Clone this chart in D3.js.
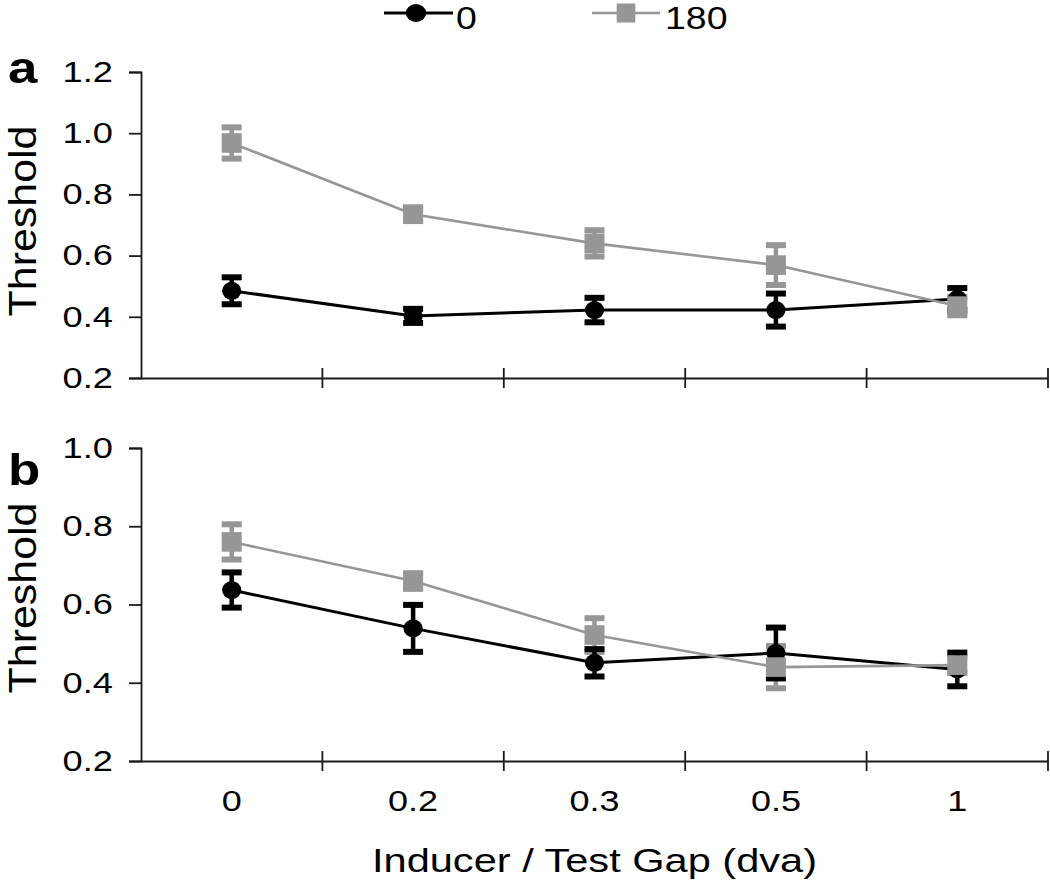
<!DOCTYPE html>
<html>
<head>
<meta charset="utf-8">
<script src="https://cdn.jsdelivr.net/npm/d3@7"></script>
<style>
  html, body { margin: 0; padding: 0; background: #fff; }
  svg { display: block; }
  text { font-family: "Liberation Sans", Arial, sans-serif; fill: #000; }
</style>
</head>
<body>
<script>
// ---------------- data ----------------
const categories = ["0", "0.2", "0.3", "0.5", "1"];
const seriesNames = ["0", "180"];
const seriesColors = ["#000000", "#969696"];

// Panel a
const a0 = [0.485, 0.403, 0.422, 0.422, 0.458];
const a0Err = [0.044, 0.023, 0.040, 0.054, 0.036];
const a180 = [0.968, 0.735, 0.640, 0.569, 0.435];
const a180Err = [0.051, 0.022, 0.043, 0.065, 0.030];

// Panel b
const b0 = [0.637, 0.539, 0.451, 0.476, 0.434];
const b0Err = [0.045, 0.060, 0.035, 0.065, 0.043];
const b180 = [0.760, 0.660, 0.522, 0.440, 0.445];
const b180Err = [0.045, 0.020, 0.043, 0.054, 0.020];

const aTicks = [0.2, 0.4, 0.6, 0.8, 1.0, 1.2];
const bTicks = [0.2, 0.4, 0.6, 0.8, 1.0];
const xTitle = "Inducer / Test Gap (dva)";
const yTitle = "Threshold";

// ---------------- layout ----------------
const W = 1050, H = 880;
const svg = d3.select("body").append("svg").attr("width", W).attr("height", H);

const x = d3.scaleBand().domain(categories).range([141, 1048]).paddingInner(0).paddingOuter(0);
const cx = c => x(c) + x.bandwidth() / 2;

const panels = [
  { label: "a", y: d3.scaleLinear().domain([0.2, 1.2]).range([378, 72]), ticks: aTicks,
    s0: a0, e0: a0Err, s1: a180, e1: a180Err, showX: false, labelY: 83, titleY: 221 },
  { label: "b", y: d3.scaleLinear().domain([0.2, 1.0]).range([761, 448]), ticks: bTicks,
    s0: b0, e0: b0Err, s1: b180, e1: b180Err, showX: true, labelY: 485, titleY: 598 }
];

const axisColor = "#1a1a1a";

function stretch(sel, s) {
  sel.each(function () {
    const t = d3.select(this);
    const tx = +t.attr("x") || 0;
    t.attr("x", 0).attr("transform", `translate(${tx},0) scale(${s},1)`);
  });
}

panels.forEach(p => {
  const g = svg.append("g");
  const y = p.y;

  // y axis
  const ya = g.append("g").attr("transform", "translate(141,0)")
    .call(d3.axisLeft(y).tickValues(p.ticks).tickFormat(d3.format(".1f")).tickSize(12).tickPadding(16));
  ya.select(".domain").attr("stroke", axisColor).attr("stroke-width", 1.8);
  ya.selectAll(".tick line").attr("stroke", axisColor).attr("stroke-width", 1.8);
  ya.selectAll(".tick text").attr("font-size", 29).attr("font-family", "Liberation Sans, Arial, sans-serif").attr("fill", "#000");
  stretch(ya.selectAll(".tick text"), 1.25);

  // x axis line at bottom of the y range
  const y0 = y.range()[0];
  const xa = g.append("g").attr("transform", `translate(0,${y0})`)
    .call(d3.axisBottom(x).tickSize(0).tickPadding(29).tickFormat(p.showX ? (d => d) : () => ""));
  xa.select(".domain").attr("stroke", axisColor).attr("stroke-width", 1.8);
  xa.selectAll(".tick text").attr("font-size", 30).attr("font-family", "Liberation Sans, Arial, sans-serif").attr("fill", "#000");
  stretch(xa.selectAll(".tick text"), 1.2);
  // cross ticks at category boundaries
  const bounds = categories.slice(1).map(c => x(c)).concat([x.range()[1]]);
  g.selectAll("line.bt").data(bounds).enter().append("line")
    .attr("x1", d => d).attr("x2", d => d)
    .attr("y1", y0 - 10).attr("y2", y0 + 10)
    .attr("stroke", axisColor).attr("stroke-width", 1.8);

  // panel label
  g.append("text").text(p.label)
    .attr("font-size", 44).attr("font-weight", "bold")
    .attr("transform", `translate(8,${p.labelY}) scale(1.2,1)`);

  // y title
  g.append("text").text(yTitle)
    .attr("font-size", 38).attr("text-anchor", "middle")
    .attr("transform", `translate(35.5,${p.titleY}) rotate(-90) scale(1.13,1)`);

  const series = [
    { vals: p.s0, errs: p.e0, color: seriesColors[0], width: 3, shape: "circle" },
    { vals: p.s1, errs: p.e1, color: seriesColors[1], width: 2.6, shape: "square" }
  ];
  const line = d3.line().x((d, i) => cx(categories[i])).y(d => y(d));

  // error bars: gray first, then black
  [series[1], series[0]].forEach(s => {
    const eg = g.append("g");
    s.vals.forEach((v, i) => {
      const xc = cx(categories[i]);
      const top = y(v + s.errs[i]), bot = y(v - s.errs[i]);
      eg.append("line").attr("x1", xc).attr("x2", xc).attr("y1", top).attr("y2", bot)
        .attr("stroke", s.color).attr("stroke-width", 4.5);
      [top, bot].forEach(yy => {
        eg.append("line").attr("x1", xc - 10).attr("x2", xc + 10).attr("y1", yy).attr("y2", yy)
          .attr("stroke", s.color).attr("stroke-width", 6);
      });
    });
  });

  // lines
  series.forEach(s => {
    g.append("path").datum(s.vals).attr("d", line)
      .attr("fill", "none").attr("stroke", s.color).attr("stroke-width", s.width);
  });

  // markers
  series.forEach(s => {
    if (s.shape === "circle") {
      g.selectAll(null).data(s.vals).enter().append("ellipse")
        .attr("cx", (d, i) => cx(categories[i])).attr("cy", d => y(d))
        .attr("rx", 9.6).attr("ry", 9).attr("fill", s.color);
    } else {
      g.selectAll(null).data(s.vals).enter().append("rect")
        .attr("x", (d, i) => cx(categories[i]) - 10).attr("y", d => y(d) - 9.8)
        .attr("width", 20).attr("height", 19.6).attr("fill", s.color);
    }
  });
});

// x title
svg.append("text").text(xTitle)
  .attr("font-size", 33).attr("text-anchor", "middle")
  .attr("transform", `translate(${(x.range()[0] + x.range()[1]) / 2},872) scale(1.26,1)`);

// legend
const legendItems = [
  { name: seriesNames[0], color: seriesColors[0], x1: 384, x2: 453, mx: 416, tx: 456, shape: "circle", w: 3 },
  { name: seriesNames[1], color: seriesColors[1], x1: 592, x2: 660, mx: 626, tx: 665, shape: "square", w: 2.6 }
];
const lg = svg.append("g");
legendItems.forEach(it => {
  lg.append("line").attr("x1", it.x1).attr("x2", it.x2).attr("y1", 13).attr("y2", 13)
    .attr("stroke", it.color).attr("stroke-width", it.w);
  if (it.shape === "circle") {
    lg.append("ellipse").attr("cx", it.mx).attr("cy", 13).attr("rx", 10.2).attr("ry", 9).attr("fill", it.color);
  } else {
    lg.append("rect").attr("x", it.mx - 9.3).attr("y", 13 - 9.5).attr("width", 18.6).attr("height", 19).attr("fill", it.color);
  }
  lg.append("text").text(it.name).attr("font-size", 32)
    .attr("transform", `translate(${it.tx},28.5) scale(1.17,1)`);
});
</script>
</body>
</html>
